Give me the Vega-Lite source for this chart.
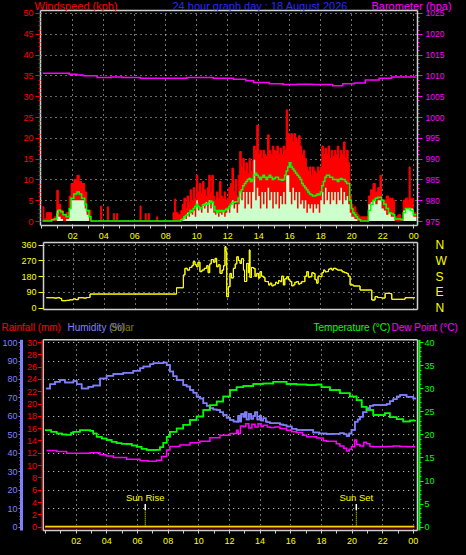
{
"$schema": "https://vega.github.io/schema/vega-lite/v6.json",
"width": 466, "height": 555,
"autosize": {"type": "none"},
"padding": 0,
"background": "#000000",
"config": {
  "view": {"stroke": null},
  "axis": {"labelFont": "Liberation Sans", "labelFontSize": 9, "titleFont": "Liberation Sans", "titleFontSize": 11, "titleFontWeight": "normal",
           "domainColor": "#d0d0d0", "domainWidth": 1.5, "tickColor": "#d0d0d0", "gridColor": "#ffffff", "gridDash": [1, 4], "gridWidth": 1, "gridOpacity": 0.9,
           "labelFlush": false, "labelOverlap": false, "labelBound": false, "titleAngle": 0, "titleAlign": "left", "titleBaseline": "alphabetic"}
},
"datasets": {
  "wind": [
{"t":0.08,"g":3.4,"s":0,"a":0},{"t":0.17,"g":0.5,"s":0,"a":0},{"t":0.33,"g":2,"s":0,"a":0},{"t":0.5,"g":2,"s":0,"a":0},{"t":0.67,"g":0.5,"s":0,"a":0.3},{"t":0.83,"g":1,"s":0,"a":0.5},
{"t":1.0,"g":7.4,"s":2.5,"a":1.8},{"t":1.1,"g":4,"s":1,"a":2.6},{"t":1.25,"g":2.6,"s":0.5,"a":2.2},{"t":1.4,"g":1.5,"s":0,"a":1.5},{"t":1.6,"g":2,"s":0.5,"a":1},{"t":1.8,"g":6,"s":3,"a":3},
{"t":1.92,"g":9,"s":5,"a":5.5},{"t":2.1,"g":10,"s":5,"a":6.5},{"t":2.3,"g":11,"s":5,"a":7},{"t":2.45,"g":9.5,"s":5,"a":6.5},{"t":2.6,"g":9,"s":5,"a":5.5},{"t":2.8,"g":7,"s":3,"a":4},
{"t":2.92,"g":2.6,"s":1.5,"a":2.5},{"t":3.08,"g":2.6,"s":0,"a":1},{"t":3.2,"g":0,"s":0,"a":0},
{"t":3.83,"g":3.6,"s":0,"a":0},{"t":3.9,"g":0,"s":0,"a":0},{"t":4.26,"g":3.4,"s":0,"a":0},{"t":4.33,"g":0,"s":0,"a":0},{"t":4.65,"g":1.8,"s":0,"a":0},{"t":4.72,"g":0,"s":0,"a":0},
{"t":4.86,"g":1.8,"s":0,"a":0},{"t":4.93,"g":0,"s":0,"a":0},{"t":6.37,"g":3.6,"s":0,"a":0},{"t":6.44,"g":0,"s":0,"a":0},{"t":6.7,"g":1.8,"s":0,"a":0},{"t":6.77,"g":0,"s":0,"a":0},
{"t":6.9,"g":1.8,"s":0,"a":0},{"t":6.97,"g":0,"s":0,"a":0},{"t":7.44,"g":1,"s":0,"a":0},{"t":7.51,"g":0,"s":0,"a":0},
{"t":8.5,"g":2,"s":0,"a":0},{"t":8.6,"g":5.3,"s":0,"a":0},{"t":8.67,"g":2,"s":0,"a":0},{"t":8.83,"g":1.5,"s":0,"a":0},
{"t":9.0,"g":2.5,"s":0,"a":0.3},{"t":9.1,"g":4,"s":0.5,"a":0.5},{"t":9.2,"g":5.5,"s":1,"a":1},{"t":9.3,"g":3,"s":0.5,"a":1.3},{"t":9.4,"g":6,"s":2,"a":1.5},{"t":9.5,"g":4.5,"s":1,"a":2},
{"t":9.6,"g":7.5,"s":2,"a":2.5},{"t":9.7,"g":5,"s":1.5,"a":2.3},{"t":9.8,"g":8,"s":2.5,"a":3},{"t":9.9,"g":5.5,"s":1,"a":3.5},{"t":10.0,"g":11,"s":5,"a":4},{"t":10.1,"g":7,"s":2.5,"a":3.5},
{"t":10.2,"g":9,"s":3,"a":3},{"t":10.3,"g":6.5,"s":2,"a":3.2},{"t":10.4,"g":9.5,"s":4,"a":3.8},{"t":10.5,"g":7.5,"s":3,"a":4},{"t":10.6,"g":6,"s":4.5,"a":4.2},{"t":10.7,"g":8,"s":2,"a":4},
{"t":10.8,"g":11,"s":5,"a":4.5},{"t":10.9,"g":7,"s":3,"a":4.8},{"t":11.0,"g":11,"s":4.5,"a":4.5},{"t":11.1,"g":6,"s":2,"a":3.5},{"t":11.2,"g":5,"s":1.5,"a":2.5},{"t":11.3,"g":7,"s":2.5,"a":2},
{"t":11.4,"g":5.5,"s":1,"a":2.5},{"t":11.5,"g":9.5,"s":2,"a":2.3},{"t":11.6,"g":6,"s":1.5,"a":2.5},{"t":11.7,"g":5.5,"s":2.5,"a":2.2},{"t":11.8,"g":7,"s":1,"a":2.5},{"t":11.9,"g":5,"s":2,"a":2.8},
{"t":12.0,"g":5.5,"s":3,"a":3},{"t":12.1,"g":8,"s":2,"a":3.5},{"t":12.2,"g":9,"s":4,"a":4},{"t":12.3,"g":12.7,"s":5,"a":4.5},{"t":12.4,"g":7,"s":3,"a":4.5},{"t":12.5,"g":10,"s":4,"a":4.6},
{"t":12.6,"g":6,"s":2,"a":4.6},{"t":12.7,"g":11,"s":4,"a":5.5},{"t":12.8,"g":16.7,"s":7,"a":7},{"t":12.9,"g":13,"s":5,"a":7.5},{"t":13.0,"g":15,"s":7,"a":8.5},{"t":13.1,"g":12,"s":3,"a":9},
{"t":13.2,"g":14,"s":7,"a":9.5},{"t":13.3,"g":11.5,"s":4,"a":10},{"t":13.4,"g":15,"s":7,"a":10.2},{"t":13.5,"g":12,"s":3,"a":9.5},{"t":13.6,"g":14.5,"s":7,"a":10},{"t":13.7,"g":18,"s":14.7,"a":11},
{"t":13.8,"g":17,"s":5,"a":11.5},{"t":13.9,"g":23,"s":8,"a":11},{"t":14.0,"g":16,"s":6,"a":10.5},{"t":14.1,"g":17,"s":3,"a":10},{"t":14.2,"g":15,"s":7,"a":10.5},{"t":14.3,"g":17,"s":4,"a":11},
{"t":14.4,"g":16,"s":7,"a":10.5},{"t":14.5,"g":15.5,"s":3,"a":10},{"t":14.6,"g":20.7,"s":8,"a":10.5},{"t":14.7,"g":17,"s":5,"a":11},{"t":14.8,"g":16,"s":7,"a":10.5},{"t":14.9,"g":18,"s":3,"a":10},
{"t":15.0,"g":17,"s":7,"a":10.2},{"t":15.1,"g":16.7,"s":4,"a":10.5},{"t":15.2,"g":18,"s":7,"a":10.5},{"t":15.3,"g":16,"s":3,"a":10},{"t":15.4,"g":17.5,"s":6,"a":10},{"t":15.5,"g":16,"s":4,"a":9.8},
{"t":15.6,"g":18,"s":7,"a":10},{"t":15.7,"g":17,"s":4,"a":11},{"t":15.8,"g":26.7,"s":11,"a":12},{"t":15.9,"g":21,"s":11,"a":13},{"t":16.0,"g":20,"s":7,"a":14},{"t":16.1,"g":21,"s":4,"a":13},
{"t":16.2,"g":19,"s":8,"a":12.5},{"t":16.3,"g":21,"s":5,"a":12},{"t":16.4,"g":20,"s":7,"a":11.5},{"t":16.5,"g":19,"s":3,"a":11},{"t":16.6,"g":20.5,"s":7,"a":10.5},{"t":16.7,"g":18,"s":4,"a":10},
{"t":16.8,"g":16,"s":5,"a":9},{"t":16.9,"g":17,"s":3,"a":8.5},{"t":17.0,"g":15,"s":5,"a":8},{"t":17.1,"g":13,"s":2,"a":7.5},{"t":17.2,"g":12,"s":4,"a":7},{"t":17.3,"g":13,"s":3,"a":6.5},
{"t":17.4,"g":11,"s":4,"a":6.3},{"t":17.5,"g":13,"s":2,"a":6},{"t":17.6,"g":12,"s":4,"a":6},{"t":17.7,"g":11.5,"s":3,"a":6.2},{"t":17.8,"g":13,"s":4,"a":6.5},{"t":17.9,"g":12,"s":2,"a":6.3},
{"t":18.0,"g":13,"s":5,"a":7},{"t":18.1,"g":18,"s":7,"a":8.5},{"t":18.2,"g":16,"s":4,"a":9.5},{"t":18.3,"g":17.5,"s":8,"a":10.5},{"t":18.4,"g":16,"s":5,"a":11},{"t":18.5,"g":18,"s":7,"a":11},
{"t":18.6,"g":15,"s":4,"a":10.5},{"t":18.7,"g":17,"s":7,"a":10.5},{"t":18.8,"g":15.5,"s":5,"a":10},{"t":18.9,"g":17,"s":7,"a":10},{"t":19.0,"g":16,"s":4,"a":10},{"t":19.1,"g":18,"s":7,"a":9.5},
{"t":19.2,"g":15,"s":5,"a":10},{"t":19.3,"g":17,"s":8,"a":10.2},{"t":19.4,"g":16,"s":4,"a":10},{"t":19.5,"g":19,"s":7,"a":10},{"t":19.6,"g":15,"s":5,"a":9.5},{"t":19.7,"g":17,"s":6,"a":9},
{"t":19.8,"g":14,"s":4,"a":9},{"t":19.9,"g":6,"s":2,"a":5},{"t":20.0,"g":4,"s":1,"a":3},{"t":20.1,"g":3,"s":1,"a":2},{"t":20.2,"g":3.4,"s":0.5,"a":1.5},{"t":20.3,"g":2,"s":0.5,"a":1},
{"t":20.4,"g":1.5,"s":0,"a":0.5},{"t":20.5,"g":1,"s":0,"a":0.3},{"t":20.6,"g":1,"s":0,"a":0},{"t":21.0,"g":1,"s":0,"a":0},
{"t":21.1,"g":6,"s":4,"a":2.5},{"t":21.25,"g":7.5,"s":4.5,"a":4},{"t":21.4,"g":9,"s":5,"a":5},{"t":21.55,"g":7,"s":4,"a":5.5},{"t":21.7,"g":8,"s":5,"a":5.7},{"t":21.85,"g":11,"s":5,"a":5.7},
{"t":21.95,"g":5,"s":3,"a":5},{"t":22.1,"g":5,"s":2.5,"a":4},{"t":22.25,"g":6,"s":1.5,"a":3},{"t":22.4,"g":5.5,"s":2,"a":2},{"t":22.55,"g":5.5,"s":1,"a":1.8},{"t":22.7,"g":5,"s":1,"a":1.5},
{"t":22.8,"g":1,"s":0,"a":0.5},{"t":23.0,"g":1.5,"s":0,"a":0.5},{"t":23.2,"g":0.5,"s":0,"a":0.3},{"t":23.35,"g":5,"s":2.5,"a":2},{"t":23.5,"g":5.5,"s":3,"a":3},{"t":23.65,"g":5,"s":3,"a":3},
{"t":23.73,"g":13,"s":3,"a":3},{"t":23.8,"g":5.5,"s":3,"a":2.5},{"t":24.0,"g":2,"s":1,"a":1.5},{"t":24.2,"g":2,"s":1,"a":1.5}
  ],
  "baro": [
{"t":0.1,"p":1010.5},{"t":1.6,"p":1010.5},{"t":1.8,"p":1010.3},{"t":2.3,"p":1010.1},{"t":2.7,"p":1009.9},{"t":3.6,"p":1009.5},{"t":4.5,"p":1009.6},{"t":5.2,"p":1009.5},
{"t":6.4,"p":1009.3},{"t":9.4,"p":1009.5},{"t":11.1,"p":1009.3},{"t":12.4,"p":1009.1},{"t":13.2,"p":1008.7},{"t":13.7,"p":1008.3},{"t":14.7,"p":1008.0},{"t":15.6,"p":1007.8},
{"t":16.5,"p":1007.9},{"t":17.5,"p":1007.8},{"t":18.8,"p":1007.5},{"t":19.45,"p":1008.0},{"t":20.2,"p":1008.2},{"t":20.9,"p":1008.9},{"t":21.8,"p":1009.3},{"t":22.6,"p":1009.6},{"t":24.15,"p":1009.7}
  ],
  "dir": [
{"t":0.3,"d":57},{"t":0.8,"d":55},{"t":1.0,"d":57},{"t":1.18,"d":53},{"t":1.29,"d":40},{"t":1.6,"d":42},{"t":1.8,"d":45},{"t":2.04,"d":50},{"t":2.2,"d":46},{"t":2.36,"d":57},{"t":2.7,"d":55},{"t":2.9,"d":58},
{"t":3.12,"d":78},{"t":8.71,"d":114},{"t":9.15,"d":187},{"t":9.25,"d":225},{"t":9.4,"d":215},{"t":9.55,"d":230},{"t":9.7,"d":240},{"t":9.79,"d":263},{"t":9.9,"d":245},{"t":10.0,"d":234},
{"t":10.1,"d":260},{"t":10.22,"d":206},{"t":10.35,"d":215},{"t":10.5,"d":225},{"t":10.66,"d":240},{"t":10.75,"d":200},{"t":10.85,"d":250},{"t":10.95,"d":275},{"t":11.09,"d":260},{"t":11.2,"d":282},
{"t":11.3,"d":234},{"t":11.4,"d":245},{"t":11.52,"d":196},{"t":11.65,"d":215},{"t":11.75,"d":240},{"t":11.84,"d":349},{"t":11.9,"d":320},{"t":11.95,"d":63},{"t":12.06,"d":120},{"t":12.16,"d":196},
{"t":12.25,"d":170},{"t":12.38,"d":225},{"t":12.5,"d":250},{"t":12.6,"d":291},{"t":12.7,"d":270},{"t":12.81,"d":253},{"t":12.9,"d":280},{"t":13.03,"d":215},{"t":13.1,"d":150},{"t":13.24,"d":253},
{"t":13.35,"d":200},{"t":13.41,"d":330},{"t":13.45,"d":173},{"t":13.55,"d":230},{"t":13.67,"d":225},{"t":13.78,"d":180},{"t":13.89,"d":196},{"t":14.0,"d":170},{"t":14.1,"d":206},{"t":14.2,"d":180},
{"t":14.32,"d":173},{"t":14.42,"d":150},{"t":14.53,"d":149},{"t":14.65,"d":130},{"t":14.75,"d":140},{"t":14.86,"d":125},{"t":14.97,"d":130},{"t":15.1,"d":145},{"t":15.2,"d":138},{"t":15.3,"d":155},
{"t":15.4,"d":149},{"t":15.5,"d":180},{"t":15.61,"d":130},{"t":15.7,"d":165},{"t":15.83,"d":177},{"t":15.93,"d":160},{"t":16.04,"d":149},{"t":16.15,"d":125},{"t":16.26,"d":130},{"t":16.35,"d":145},
{"t":16.47,"d":149},{"t":16.58,"d":135},{"t":16.69,"d":140},{"t":16.8,"d":150},{"t":16.9,"d":149},{"t":17.0,"d":180},{"t":17.12,"d":206},{"t":17.22,"d":175},{"t":17.33,"d":177},{"t":17.45,"d":200},
{"t":17.55,"d":196},{"t":17.65,"d":160},{"t":17.76,"d":140},{"t":17.85,"d":180},{"t":17.98,"d":177},{"t":18.1,"d":200},{"t":18.2,"d":215},{"t":18.3,"d":205},{"t":18.41,"d":206},{"t":18.52,"d":220},
{"t":18.63,"d":225},{"t":18.74,"d":215},{"t":18.84,"d":225},{"t":19.0,"d":220},{"t":19.1,"d":215},{"t":19.27,"d":215},{"t":19.4,"d":205},{"t":19.55,"d":200},{"t":19.7,"d":196},{"t":19.8,"d":180},
{"t":19.92,"d":130},{"t":20.13,"d":124},{"t":20.46,"d":124},{"t":20.56,"d":101},{"t":21.21,"d":101},{"t":21.32,"d":44},{"t":21.53,"d":63},{"t":21.7,"d":58},{"t":21.96,"d":55},{"t":22.18,"d":82},
{"t":22.5,"d":80},{"t":22.61,"d":48},{"t":23.36,"d":48},{"t":23.47,"d":57},{"t":24.1,"d":57}
  ],
  "hum": [
{"t":0.07,"v":74.9},{"t":0.33,"v":77.1},{"t":0.65,"v":78.5},{"t":0.98,"v":79.4},{"t":1.3,"v":78.1},{"t":1.63,"v":78.1},{"t":1.85,"v":78.9},{"t":2.07,"v":77.1},{"t":2.39,"v":74.9},{"t":2.83,"v":75.8},
{"t":3.15,"v":76.5},{"t":3.59,"v":80.3},{"t":4.02,"v":81.8},{"t":4.46,"v":82.7},{"t":5.11,"v":83.4},{"t":5.76,"v":84.5},{"t":6.2,"v":85.8},{"t":6.42,"v":86.7},{"t":6.85,"v":88},{"t":7.07,"v":88.5},
{"t":7.5,"v":88.5},{"t":7.72,"v":89},{"t":7.94,"v":87.6},{"t":8.15,"v":84},{"t":8.37,"v":81.5},{"t":8.59,"v":79.4},{"t":9.02,"v":76.7},{"t":9.24,"v":76},{"t":9.46,"v":74},{"t":9.68,"v":72.5},
{"t":9.89,"v":70.4},{"t":10.11,"v":69.5},{"t":10.33,"v":66.8},{"t":10.55,"v":65.5},{"t":10.76,"v":64.1},{"t":10.98,"v":63.5},{"t":11.2,"v":63.2},{"t":11.42,"v":62},{"t":11.63,"v":60.5},{"t":11.85,"v":59},
{"t":12.07,"v":57.8},{"t":12.3,"v":57},{"t":12.5,"v":56.9},{"t":12.6,"v":60},{"t":12.7,"v":57},{"t":12.8,"v":61},{"t":12.94,"v":59.6},{"t":13.05,"v":62},{"t":13.15,"v":58},{"t":13.3,"v":61},
{"t":13.45,"v":58.5},{"t":13.59,"v":60},{"t":13.7,"v":62},{"t":13.85,"v":58},{"t":14.0,"v":60},{"t":14.1,"v":57.5},{"t":14.24,"v":58.7},{"t":14.4,"v":57},{"t":14.5,"v":56.5},{"t":14.68,"v":56},
{"t":15.0,"v":56},{"t":15.33,"v":55.4},{"t":15.55,"v":55},{"t":15.76,"v":54.2},{"t":16.1,"v":53},{"t":16.41,"v":52.4},{"t":17.07,"v":52.4},{"t":17.5,"v":51},{"t":17.9,"v":50.5},{"t":18.37,"v":50.2},
{"t":18.8,"v":50.4},{"t":19.24,"v":50.6},{"t":19.5,"v":50},{"t":19.68,"v":49.1},{"t":19.85,"v":50.5},{"t":20.0,"v":52.4},{"t":20.22,"v":56.9},{"t":20.4,"v":58},{"t":20.55,"v":59.6},{"t":20.75,"v":62},
{"t":20.98,"v":64.1},{"t":21.2,"v":65.5},{"t":21.42,"v":65.9},{"t":21.8,"v":65.9},{"t":22.29,"v":66.5},{"t":22.5,"v":68},{"t":22.72,"v":69},{"t":22.95,"v":70.5},{"t":23.16,"v":71.3},{"t":23.59,"v":70.4},
{"t":24.03,"v":69.5},{"t":24.2,"v":69.5}
  ],
  "temp": [
{"t":0.0,"v":20.9},{"t":0.4,"v":20.6},{"t":0.76,"v":20.2},{"t":1.1,"v":20},{"t":1.41,"v":19.9},{"t":1.7,"v":20.3},{"t":1.85,"v":20.6},{"t":2.28,"v":20.9},{"t":2.94,"v":20.8},{"t":3.15,"v":20.2},
{"t":3.37,"v":19.5},{"t":3.7,"v":19.1},{"t":4.02,"v":18.8},{"t":4.35,"v":18.4},{"t":4.67,"v":18.1},{"t":5.0,"v":18.0},{"t":5.33,"v":17.9},{"t":5.66,"v":17.6},{"t":5.98,"v":17.3},{"t":6.3,"v":16.9},
{"t":6.63,"v":16.6},{"t":7.07,"v":16.6},{"t":7.28,"v":16.7},{"t":7.5,"v":17.2},{"t":7.72,"v":18.2},{"t":7.94,"v":19.5},{"t":8.15,"v":20.6},{"t":8.59,"v":21.3},{"t":9.02,"v":22.1},{"t":9.46,"v":23.1},
{"t":9.89,"v":23.9},{"t":10.33,"v":25.3},{"t":10.76,"v":26.3},{"t":11.2,"v":27.1},{"t":11.63,"v":28.2},{"t":12.07,"v":29.6},{"t":12.5,"v":30.2},{"t":12.94,"v":30.5},{"t":13.59,"v":30.9},{"t":14.24,"v":31.0},
{"t":14.89,"v":31.4},{"t":15.33,"v":31.4},{"t":15.76,"v":30.9},{"t":16.41,"v":30.8},{"t":17.07,"v":30.7},{"t":17.72,"v":30.8},{"t":18.04,"v":30.2},{"t":18.59,"v":29.6},{"t":19.24,"v":28.9},{"t":19.89,"v":28.2},
{"t":20.33,"v":27.4},{"t":20.66,"v":26.0},{"t":20.98,"v":25.3},{"t":21.42,"v":24.2},{"t":21.85,"v":24.2},{"t":22.18,"v":24.6},{"t":22.5,"v":23.7},{"t":22.94,"v":23.3},{"t":23.37,"v":22.8},{"t":23.81,"v":23.0},
{"t":24.14,"v":23.1}
  ],
  "dew": [
{"t":0.11,"v":16.5},{"t":0.76,"v":16.3},{"t":1.41,"v":15.9},{"t":2.28,"v":15.9},{"t":2.94,"v":16.0},{"t":3.59,"v":15.6},{"t":4.0,"v":15.3},{"t":4.46,"v":15.0},{"t":5.33,"v":14.6},{"t":6.2,"v":14.3},
{"t":6.74,"v":14.2},{"t":7.28,"v":14.4},{"t":7.61,"v":15.2},{"t":7.94,"v":16.6},{"t":8.15,"v":17.4},{"t":8.8,"v":17.7},{"t":9.46,"v":18.2},{"t":10.11,"v":18.5},{"t":10.76,"v":19.3},{"t":11.42,"v":19.8},
{"t":12.07,"v":20.2},{"t":12.5,"v":20.9},{"t":12.6,"v":20.2},{"t":12.75,"v":21.8},{"t":12.94,"v":21.7},{"t":13.1,"v":22.3},{"t":13.3,"v":21.4},{"t":13.5,"v":22.2},{"t":13.7,"v":21.6},{"t":13.9,"v":22.3},
{"t":14.1,"v":21.7},{"t":14.24,"v":22.0},{"t":14.5,"v":21.6},{"t":14.68,"v":21.5},{"t":15.0,"v":21.6},{"t":15.33,"v":21.3},{"t":15.76,"v":20.9},{"t":16.1,"v":20.6},{"t":16.41,"v":20.4},{"t":16.8,"v":19.8},
{"t":17.07,"v":19.5},{"t":17.72,"v":19.2},{"t":18.15,"v":18.6},{"t":18.37,"v":18.5},{"t":19.0,"v":18.0},{"t":19.24,"v":17.5},{"t":19.5,"v":17.0},{"t":19.68,"v":16.4},{"t":19.85,"v":16.8},{"t":20.0,"v":17.3},
{"t":20.2,"v":18.8},{"t":20.33,"v":17.8},{"t":20.55,"v":17.5},{"t":20.8,"v":18.3},{"t":20.98,"v":18.0},{"t":21.2,"v":17.4},{"t":21.42,"v":17.3},{"t":22.0,"v":17.3},{"t":22.29,"v":17.4},{"t":22.72,"v":17.5},
{"t":23.16,"v":17.4},{"t":23.6,"v":17.3},{"t":24.14,"v":17.3}
  ],
  "rain": [{"t":0.0,"r":0},{"t":24.1,"r":0}],
  "sun": [{"t":6.54,"label":"Sun Rise"},{"t":20.31,"label":"Sun Set"}]
},
"resolve": {"scale": {"x": "independent", "y": "independent"}, "axis": {"x": "independent", "y": "independent"}},
"layer": [
{"data": {"name": "wind"}, "mark": {"type": "area", "interpolate": "step-after", "color": "#ff0000"},
 "encoding": {
  "x": {"field": "t", "type": "quantitative", "scale": {"domain": [-0.084, 24.24], "range": [40, 417], "nice": false, "zero": false},
        "axis": {"orient": "bottom", "offset": -330, "values": [2,4,6,8,10,12,14,16,18,20,22,24], "labelExpr": "(datum.value % 24 < 10 ? '0' : '') + (datum.value % 24)", "labelColor": "#ffff00", "tickSize": 0, "labelPadding": 6, "grid": false, "title": null}},
  "y": {"field": "g", "type": "quantitative", "scale": {"domain": [-0.96, 50.72], "range": [225, 10], "nice": false, "zero": false},
        "axis": {"orient": "left", "offset": -40, "values": [0,5,10,15,20,25,30,35,40,45,50], "labelColor": "#ff0000", "tickColor": "#ff0000", "tickSize": 5, "labelPadding": 2,
                 "grid": true, "gridOpacity": {"condition": {"test": "datum.value === 0", "value": 0}, "value": 0.9},
                 "title": "Windspeed (kph)", "titleColor": "#ff0000", "titleX": -6, "titleY": 9.5}},
  "y2": {"datum": 0}}},
{"data": {"name": "wind"}, "mark": {"type": "line", "interpolate": "step-after", "color": "#ff0000", "strokeWidth": 1},
 "encoding": {
  "x": {"field": "t", "type": "quantitative", "scale": {"domain": [-0.084, 24.24], "range": [40, 417], "nice": false, "zero": false},
        "axis": {"orient": "bottom", "offset": -330, "values": [0,1,2,3,4,5,6,7,8,9,10,11,12,13,14,15,16,17,18,19,20,21,22,23,24], "labels": false, "domain": false, "grid": false, "tickSize": 3, "title": null}},
  "y": {"field": "g", "type": "quantitative", "scale": {"domain": [-0.96, 50.72], "range": [225, 10], "nice": false, "zero": false},
        "axis": {"orient": "left", "offset": -40, "values": [0,1,2,3,4,5,6,7,8,9,10,11,12,13,14,15,16,17,18,19,20,21,22,23,24,25,26,27,28,29,30,31,32,33,34,35,36,37,38,39,40,41,42,43,44,45,46,47,48,49,50], "labels": false, "domain": false, "grid": false, "tickSize": 2, "tickColor": "#ff0000", "title": null}}}},
{"data": {"name": "wind"}, "mark": {"type": "area", "interpolate": "step-after", "color": "#ccffcc"},
 "encoding": {
  "x": {"field": "t", "type": "quantitative", "scale": {"domain": [-0.084, 24.24], "range": [40, 417], "nice": false, "zero": false},
        "axis": {"orient": "top", "offset": -10, "values": [2,4,6,8,10,12,14,16,18,20,22,24], "labels": false, "ticks": false, "grid": true,
                 "title": "24 hour graph day : 18 August 2026", "titleColor": "#2828ff", "titleX": 172, "titleY": -0.5}},
  "y": {"field": "s", "type": "quantitative", "scale": {"domain": [-0.96, 50.72], "range": [225, 10], "nice": false, "zero": false}, "axis": null},
  "y2": {"datum": 0}}},
{"data": {"name": "wind"}, "mark": {"type": "line", "interpolate": "step-after", "color": "#00ff00", "strokeWidth": 1.5},
 "encoding": {
  "x": {"field": "t", "type": "quantitative", "scale": {"domain": [-0.084, 24.24], "range": [40, 417], "nice": false, "zero": false}, "axis": null},
  "y": {"field": "a", "type": "quantitative", "scale": {"domain": [-0.96, 50.72], "range": [225, 10], "nice": false, "zero": false},
        "axis": {"orient": "right", "offset": -49, "values": [0,1,2,3,4,5,6,7,8,9,10,11,12,13,14,15,16,17,18,19,20,21,22,23,24,25,26,27,28,29,30,31,32,33,34,35,36,37,38,39,40,41,42,43,44,45,46,47,48,49,50], "labels": false, "domain": false, "grid": false, "tickSize": 2, "tickColor": "#ff00ff", "title": null}}}},
{"data": {"name": "baro"}, "mark": {"type": "line", "interpolate": "step-after", "color": "#ff00ff", "strokeWidth": 1.5},
 "encoding": {
  "x": {"field": "t", "type": "quantitative", "scale": {"domain": [-0.084, 24.24], "range": [40, 417], "nice": false, "zero": false}, "axis": null},
  "y": {"field": "p", "type": "quantitative", "scale": {"domain": [974.04, 1025.72], "range": [225, 10], "nice": false, "zero": false},
        "axis": {"orient": "right", "offset": -49, "values": [975,980,985,990,995,1000,1005,1010,1015,1020,1025], "format": "d", "labelColor": "#ff00ff", "labelFontSize": 8.5, "tickColor": "#ff00ff", "tickSize": 5, "labelPadding": 3, "grid": false,
                 "title": "Barometer (hpa)", "titleColor": "#ff00ff", "titleX": -46, "titleY": 9.5}}}},
{"data": {"name": "dir"}, "mark": {"type": "line", "interpolate": "step-after", "color": "#ffff00", "strokeWidth": 1},
 "encoding": {
  "x": {"field": "t", "type": "quantitative", "scale": {"domain": [0.084, 24.24], "range": [43, 417], "nice": false, "zero": false},
        "axis": {"orient": "bottom", "offset": -246, "labels": false, "ticks": false, "grid": false, "title": null}},
  "y": {"field": "d", "type": "quantitative", "scale": {"domain": [-7.4, 375.4], "range": [309, 242], "nice": false, "zero": false},
        "axis": {"orient": "left", "offset": -43, "values": [0,90,180,270,360], "labelColor": "#ffff00", "tickColor": "#ffff00", "tickSize": 5, "labelPadding": 2,
                 "grid": true, "gridOpacity": {"condition": {"test": "datum.value === 0", "value": 0}, "value": 0.9}, "title": null}}}},
{"data": {"name": "dir"}, "mark": {"type": "line", "interpolate": "step-after", "color": "#ffff00", "strokeWidth": 1},
 "encoding": {
  "x": {"field": "t", "type": "quantitative", "scale": {"domain": [0.084, 24.24], "range": [43, 417], "nice": false, "zero": false},
        "axis": {"orient": "top", "offset": -242, "values": [2,4,6,8,10,12,14,16,18,20,22,24], "labels": false, "ticks": false, "grid": true, "title": null}},
  "y": {"field": "d", "type": "quantitative", "scale": {"domain": [-7.4, 375.4], "range": [309, 242], "nice": false, "zero": false},
        "axis": {"orient": "right", "offset": -49, "values": [0,90,180,270,360], "labelExpr": "datum.value == 90 ? 'E' : datum.value == 180 ? 'S' : datum.value == 270 ? 'W' : 'N'",
                 "labelColor": "#ffff00", "labelFontSize": 12, "ticks": false, "tickSize": 0, "labelPadding": 18, "grid": false, "title": null}}}},
{"data": {"name": "hum"}, "mark": {"type": "line", "interpolate": "step-after", "color": "#8080ff", "strokeWidth": 1.5},
 "encoding": {
  "x": {"field": "t", "type": "quantitative", "scale": {"domain": [-0.15, 24.27], "range": [42.7, 417], "nice": false, "zero": false},
        "axis": {"orient": "bottom", "offset": -25, "values": [2,4,6,8,10,12,14,16,18,20,22,24], "labelExpr": "(datum.value % 24 < 10 ? '0' : '') + (datum.value % 24)", "labelColor": "#ffff00", "tickSize": 0, "labelPadding": 6, "grid": false, "title": null}},
  "y": {"field": "v", "type": "quantitative", "scale": {"domain": [-1.8, 101.5], "range": [530, 339.3], "nice": false, "zero": false},
        "axis": {"orient": "left", "offset": -21, "values": [0,10,20,30,40,50,60,70,80,90,100], "labelColor": "#8080ff", "tickColor": "#8080ff", "tickSize": 3, "labelPadding": 1,
                 "domainColor": "#8080ff", "domainWidth": 3, "grid": false,
                 "title": "Humidity (%)", "titleColor": "#8080ff", "titleFontSize": 10, "titleX": 46, "titleY": 330.5}}}},
{"data": {"name": "hum"}, "mark": {"type": "line", "interpolate": "step-after", "color": "#8080ff", "strokeWidth": 1.5},
 "encoding": {
  "x": {"field": "t", "type": "quantitative", "scale": {"domain": [-0.15, 24.27], "range": [42.7, 417], "nice": false, "zero": false}, "axis": null},
  "y": {"field": "v", "type": "quantitative", "scale": {"domain": [-1.8, 101.5], "range": [530, 339.3], "nice": false, "zero": false},
        "axis": {"orient": "left", "offset": -21, "values": [0,2,4,6,8,10,12,14,16,18,20,22,24,26,28,30,32,34,36,38,40,42,44,46,48,50,52,54,56,58,60,62,64,66,68,70,72,74,76,78,80,82,84,86,88,90,92,94,96,98,100], "labels": false, "domain": false, "grid": false, "tickSize": 2, "tickColor": "#8080ff", "title": null}}}},
{"data": {"name": "temp"}, "mark": {"type": "line", "interpolate": "step-after", "color": "#00ff00", "strokeWidth": 1.5},
 "encoding": {
  "x": {"field": "t", "type": "quantitative", "scale": {"domain": [-0.15, 24.27], "range": [42.7, 417], "nice": false, "zero": false},
        "axis": {"orient": "top", "offset": -339.3, "values": [2,4,6,8,10,12,14,16,18,20,22,24], "labels": false, "ticks": false, "grid": true, "title": null}},
  "y": {"field": "v", "type": "quantitative", "scale": {"domain": [-0.71, 40.6], "range": [530, 339.3], "nice": false, "zero": false},
        "axis": {"orient": "right", "offset": -47, "values": [0,5,10,15,20,25,30,35,40], "labelColor": "#00ff00", "tickColor": "#00ff00", "tickSize": 4, "labelPadding": 1,
                 "domainColor": "#00ff00", "domainWidth": 2, "grid": false,
                 "title": "Temperature (°C)", "titleColor": "#00ff00", "titleFontSize": 10, "titleX": -106, "titleY": 330.5}}}},
{"data": {"name": "temp"}, "mark": {"type": "line", "interpolate": "step-after", "color": "#00ff00", "strokeWidth": 1.5},
 "encoding": {
  "x": {"field": "t", "type": "quantitative", "scale": {"domain": [-0.15, 24.27], "range": [42.7, 417], "nice": false, "zero": false}, "axis": null},
  "y": {"field": "v", "type": "quantitative", "scale": {"domain": [-0.71, 40.6], "range": [530, 339.3], "nice": false, "zero": false},
        "axis": {"orient": "right", "offset": -47, "values": [0,1,2,3,4,5,6,7,8,9,10,11,12,13,14,15,16,17,18,19,20,21,22,23,24,25,26,27,28,29,30,31,32,33,34,35,36,37,38,39,40], "labels": false, "domain": false, "grid": false, "tickSize": 2, "tickColor": "#00ff00", "title": null}}}},
{"data": {"name": "dew"}, "mark": {"type": "line", "interpolate": "step-after", "color": "#ff00ff", "strokeWidth": 1.5},
 "encoding": {
  "x": {"field": "t", "type": "quantitative", "scale": {"domain": [-0.15, 24.27], "range": [42.7, 417], "nice": false, "zero": false},
        "axis": {"orient": "bottom", "offset": -25, "values": [0,1,2,3,4,5,6,7,8,9,10,11,12,13,14,15,16,17,18,19,20,21,22,23,24], "labels": false, "domain": false, "grid": false, "tickSize": 3, "title": null}},
  "y": {"field": "v", "type": "quantitative", "scale": {"domain": [-0.71, 40.6], "range": [530, 339.3], "nice": false, "zero": false},
        "axis": {"orient": "left", "offset": -42.7, "values": [4,8,12,16,20,24,28,32,36,40], "labels": false, "ticks": false, "grid": true,
                 "title": "Dew Point (°C)", "titleColor": "#ff00ff", "titleFontSize": 10, "titleX": 348.3, "titleY": 330.5}}}},
{"data": {"name": "rain"}, "mark": {"type": "line", "color": "#ff0000", "strokeWidth": 3},
 "encoding": {
  "x": {"field": "t", "type": "quantitative", "scale": {"domain": [-0.15, 24.27], "range": [42.7, 417], "nice": false, "zero": false}, "axis": null},
  "y": {"field": "r", "type": "quantitative", "scale": {"domain": [-0.54, 30.44], "range": [530, 339.3], "nice": false, "zero": false},
        "axis": {"orient": "left", "offset": -41.5, "values": [0,2,4,6,8,10,12,14,16,18,20,22,24,26,28,30], "labelColor": "#ff0000", "tickColor": "#ff0000", "tickSize": 4, "labelPadding": 1,
                 "domainColor": "#ff0000", "domainWidth": 1, "grid": false,
                 "title": "Rainfall (mm)", "titleColor": "#ff0000", "titleFontSize": 10, "titleX": -40.5, "titleY": 330.5}}}},
{"data": {"name": "rain"}, "mark": {"type": "line", "color": "#ffff00", "strokeWidth": 1},
 "encoding": {
  "x": {"field": "t", "type": "quantitative", "scale": {"domain": [-0.15, 24.27], "range": [42.7, 417], "nice": false, "zero": false}, "axis": null},
  "y": {"field": "r", "type": "quantitative", "scale": {"domain": [-1.8, 101.5], "range": [530, 339.3], "nice": false, "zero": false},
        "axis": {"orient": "left", "offset": 0, "labels": false, "ticks": false, "domain": false, "grid": false,
                 "title": "Solar", "titleColor": "#808000", "titleFontSize": 10, "titleX": 110, "titleY": 330.5}}}},
{"data": {"name": "sun"}, "mark": {"type": "rule", "color": "#ffffff", "strokeWidth": 1.5},
 "encoding": {
  "x": {"field": "t", "type": "quantitative", "scale": {"domain": [-0.15, 24.27], "range": [42.7, 417], "nice": false, "zero": false}, "axis": null},
  "y": {"datum": 9, "type": "quantitative", "scale": {"domain": [-1.8, 101.5], "range": [530, 339.3], "nice": false, "zero": false},
        "axis": {"orient": "right", "offset": -49, "labels": false, "ticks": false, "grid": false, "title": null}},
  "y2": {"datum": 12.3}}},
{"data": {"name": "sun"}, "mark": {"type": "rule", "color": "#ffff00", "strokeWidth": 1, "strokeDash": [1, 1]},
 "encoding": {
  "x": {"field": "t", "type": "quantitative", "scale": {"domain": [-0.15, 24.27], "range": [42.7, 417], "nice": false, "zero": false}, "axis": null},
  "y": {"datum": 0, "type": "quantitative", "scale": {"domain": [-1.8, 101.5], "range": [530, 339.3], "nice": false, "zero": false}, "axis": null},
  "y2": {"datum": 9}}},
{"data": {"name": "sun"}, "mark": {"type": "text", "color": "#ffff00", "fontSize": 9.5, "font": "Liberation Sans", "baseline": "alphabetic", "align": "center"},
 "encoding": {
  "x": {"field": "t", "type": "quantitative", "scale": {"domain": [-0.15, 24.27], "range": [42.7, 417], "nice": false, "zero": false}, "axis": null},
  "y": {"datum": 14, "type": "quantitative", "scale": {"domain": [-1.8, 101.5], "range": [530, 339.3], "nice": false, "zero": false}, "axis": null},
  "text": {"field": "label"}}}
]
}
